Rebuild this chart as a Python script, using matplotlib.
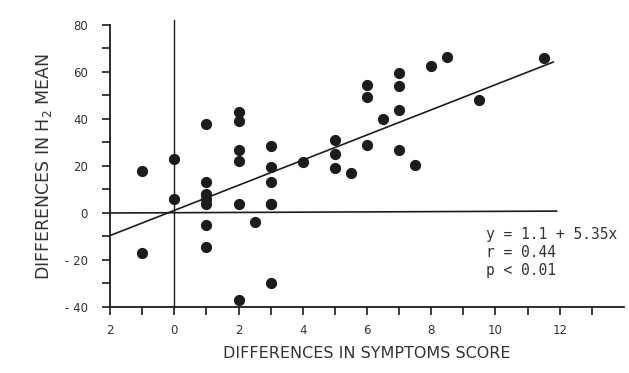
import numpy as np
import matplotlib
matplotlib.use('Agg')
import matplotlib.pyplot as plt

# differences in symptoms score vs differences in H2 mean
symptom_diff = [-1, -1, 0, 0,
                1, 1, 1, 1, 1, 1, 1,
                2, 2, 2, 2, 2, 2, 2.5,
                3, 3, 3, 3, 3, 3, 4,
                5, 5, 5, 5.5,
                6, 6, 6, 6.5,
                7, 7, 7, 7, 7.5,
                8, 8.5, 9.5, 11.5]
h2_diff = [18, -17, 23, 6,
           38, 13, 8, 6, 4, -5, -14.5,
           43, 39, 27, 22, 4, -37, -4,
           28.5, 19.5, 13, 4, -30, 4, 21.5,
           31, 25, 19, 17,
           54.5, 49.5, 29, 40,
           59.5, 54, 44, 27, 20.5,
           62.5, 66.5, 48, 66]

intercept = 1.1
slope = 5.35
fit_x = [-2, 11.8]

xticks = np.arange(-2, 14, 1)
xlabels = ['2', '0', '2', '4', '6', '8', '10', '12']
ylabels = ['- 40', '- 20', '0', '20', '40', '60', '80']

ink = '#1c1c1c'

fig = plt.figure(figsize=(6.29, 3.73), dpi=100)
ax = fig.add_axes([0.175, 0.177, 0.817, 0.756])

ax.set_xlim(-2, 14)
ax.set_ylim(-40, 80)

# zero lines
ax.plot([0, 0], [-40, 82], color=ink, lw=1.0, clip_on=False)
ax.plot([-2, 11.9], [0, 0.8], color=ink, lw=1.2)

# regression line
fx = np.array(fit_x)
ax.plot(fx, intercept + slope * fx, color=ink, lw=1.2)

ax.scatter(symptom_diff, h2_diff, s=50, color=ink, zorder=3)

for s in ['top', 'right']:
    ax.spines[s].set_visible(False)
for s in ['left', 'bottom']:
    ax.spines[s].set_color(ink)
    ax.spines[s].set_linewidth(1.3)

ax.set_xticks(xticks)
ax.set_xticklabels([xlabels[i // 2] if i % 2 == 0 else '' for i in range(len(xticks))])
ax.set_yticks(np.arange(-40, 81, 10))
ax.set_yticklabels([ylabels[i // 2] if i % 2 == 0 else '' for i in range(13)])
ax.tick_params(axis='both', direction='out', length=6, width=1.2, color=ink,
               labelcolor='#333333', labelsize=8.5)
ax.tick_params(axis='y', pad=10)
ax.tick_params(axis='x', pad=6)

ax.set_xlabel('DIFFERENCES IN SYMPTOMS SCORE', fontsize=11.5, color='#333333',
              labelpad=7)
ax.set_ylabel('DIFFERENCES IN H$_2$ MEAN', fontsize=12.5, color='#333333',
              labelpad=8)

ax.text(9.7, -17, 'y = 1.1 + 5.35x\nr = 0.44\np < 0.01', family='DejaVu Sans Mono',
        fontsize=10.5, color='#333333', va='center', linespacing=1.25)

fig.savefig('out.png', dpi=100)
